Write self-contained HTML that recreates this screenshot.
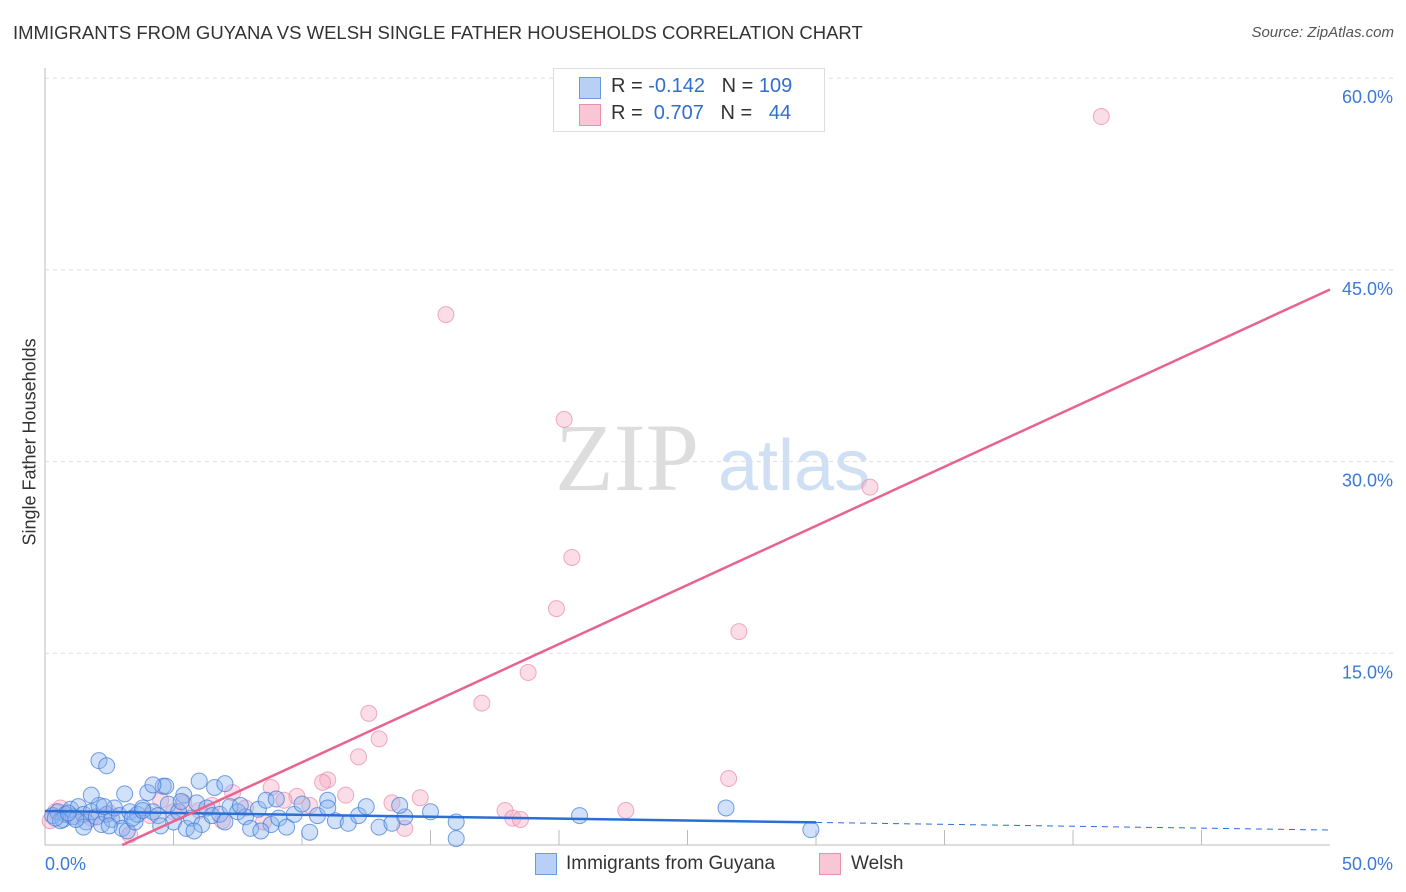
<!DOCTYPE html>
<html><head><meta charset="utf-8"><style>
body{margin:0;background:#fff;font-family:"Liberation Sans",sans-serif;}
#wrap{position:relative;width:1406px;height:892px;}
.t{position:absolute;white-space:nowrap;}
</style></head><body>
<div id="wrap">
<div class="t" style="left:13px;top:22px;font-size:18.5px;color:#333;">IMMIGRANTS FROM GUYANA VS WELSH SINGLE FATHER HOUSEHOLDS CORRELATION CHART</div>
<div class="t" style="right:12px;top:24px;font-size:15px;color:#555;font-style:italic;">Source: ZipAtlas.com</div>
<div class="t" style="left:-60px;top:445px;font-size:18px;color:#333;transform:rotate(-90deg);width:180px;text-align:center;">Single Father Households</div>
<svg id="svg" width="1406" height="892" style="position:absolute;left:0;top:0"></svg>
<div style="position:absolute;left:553px;top:68px;width:270px;height:62px;border:1px solid #ddd;background:#fff;">
 <div style="position:absolute;left:25px;top:8px;width:20px;height:20px;background:#b8d0f5;border:1px solid #6a9be0;"></div>
 <div class="t" style="left:57px;top:6px;font-size:20px;color:#333;">R = <span style="color:#2f6fd0">-0.142</span>&nbsp;&nbsp;&nbsp;N = <span style="color:#2f6fd0">109</span></div>
 <div style="position:absolute;left:25px;top:35px;width:20px;height:20px;background:#f8c6d4;border:1px solid #ea8fab;"></div>
 <div class="t" style="left:57px;top:33px;font-size:20px;color:#333;">R = &nbsp;<span style="color:#2f6fd0">0.707</span>&nbsp;&nbsp;&nbsp;N = &nbsp;&nbsp;<span style="color:#2f6fd0">44</span></div>
</div>
<div>
 <div style="position:absolute;left:535px;top:853px;width:20px;height:20px;background:#b8d0f5;border:1px solid #6a9be0;"></div>
 <div class="t" style="left:566px;top:853px;font-size:19px;color:#333;">Immigrants from Guyana</div>
 <div style="position:absolute;left:819px;top:853px;width:20px;height:20px;background:#f8c6d4;border:1px solid #ea8fab;"></div>
 <div class="t" style="left:851px;top:853px;font-size:19px;color:#333;">Welsh</div>
</div>
</div>
<script>
const yTicks=[15,30,45,60];
const yTickLabels=["15.0%","30.0%","45.0%","60.0%"];
const xTickLabels=["0.0%","50.0%"];
const blue=[[0.3,2.3],[0.5,2.6],[0.7,2.0],[0.8,2.4],[1.0,2.8],[1.1,2.2],[1.3,3.0],[1.5,2.4],[1.6,1.8],[1.8,2.6],[2.0,2.2],[2.1,3.1],[2.2,1.6],[2.4,2.4],[2.6,2.0],[2.7,2.9],[2.9,2.3],[3.0,1.3],[3.2,1.1],[3.3,2.6],[3.5,1.8],[3.6,2.4],[3.8,2.9],[4.0,4.1],[4.2,2.6],[4.4,2.3],[4.6,4.6],[4.8,3.2],[5.0,1.8],[5.2,2.6],[5.4,3.9],[5.5,1.3],[5.7,2.1],[5.9,3.3],[6.1,1.6],[6.3,2.9],[6.5,2.3],[6.8,2.4],[7.0,1.8],[7.2,3.0],[7.5,2.6],[7.8,2.2],[8.0,1.3],[8.3,2.8],[8.6,3.5],[8.8,1.6],[9.1,2.1],[9.4,1.4],[9.7,2.4],[10.0,3.2],[10.3,1.0],[10.6,2.3],[11.0,3.5],[11.3,1.9],[11.8,1.7],[12.2,2.3],[12.5,3.0],[13.0,1.4],[13.5,1.7],[14.0,2.2],[15.0,2.6],[16.0,1.8],[1.5,1.4],[2.5,1.5],[0.6,1.9],[3.4,2.1],[4.5,1.5],[5.8,1.1],[6.6,4.5],[7.6,3.1],[8.4,1.1],[9.0,3.6],[2.1,6.6],[2.4,6.2],[4.7,4.6],[6.0,5.0],[7.0,4.8],[11.0,2.9],[13.8,3.1],[16.0,0.5],[20.8,2.3],[26.5,2.9],[29.8,1.2],[1.8,3.9],[3.1,4.0],[4.2,4.7],[5.3,3.4],[3.8,2.7],[2.3,3.0],[1.2,2.0],[0.4,2.1],[0.9,2.5]];
const pink=[[41.1,57.0],[15.6,41.5],[20.2,33.3],[32.1,28.0],[20.5,22.5],[19.9,18.5],[27.0,16.7],[18.8,13.5],[17.0,11.1],[12.6,10.3],[13.0,8.3],[12.2,6.9],[26.6,5.2],[11.0,5.1],[10.8,4.9],[11.7,3.9],[8.8,4.5],[9.8,3.8],[7.3,4.1],[9.3,3.5],[10.3,3.1],[13.5,3.3],[14.6,3.7],[17.9,2.7],[18.2,2.1],[18.5,2.0],[14.0,1.3],[22.6,2.7],[8.5,1.8],[0.2,1.9],[0.4,2.6],[0.6,2.9],[1.0,2.3],[1.8,2.1],[2.5,2.5],[3.3,0.8],[4.5,3.5],[5.4,3.3],[6.5,3.1],[7.8,2.9],[6.0,2.7],[4.1,2.3],[5.0,2.6],[6.9,1.9]];
const blueTrend=[2.66,-0.0298];
const pinkTrend=[-2.78,0.925];
const X=v=>45+v/50*1285, Y=v=>845-v*191.7/15;
const svg=document.getElementById('svg'),NS='http://www.w3.org/2000/svg';
function mk(t,a){const e=document.createElementNS(NS,t);for(const k in a)e.setAttribute(k,a[k]);svg.appendChild(e);return e;}
let w=mk('text',{x:555,y:490,'font-size':96,fill:'#ddd','font-family':'Liberation Serif'});w.textContent='ZIP';


let w2=mk('text',{x:718,y:490,'font-size':72,fill:'#cfe0f5','font-family':'Liberation Sans'});w2.textContent='atlas';


yTicks.forEach((t,i)=>{
 const g=mk('line',{x1:45,x2:1395,y1:Y(t),y2:Y(t),stroke:'#ddd','stroke-dasharray':'4,4'});
 
 
 const l=mk('text',{x:1393,y:Y(t)+25,'text-anchor':'end','font-size':18,fill:'#3b7ad8'});l.textContent=yTickLabels[i];
 
 
});
mk('line',{x1:45,x2:45,y1:68,y2:845,stroke:'#bbb'});
mk('line',{x1:45,x2:1330,y1:845,y2:845,stroke:'#bbb'});
for(let i=1;i<=9;i++){const x=X(i*5);const tk=mk('line',{x1:x,x2:x,y1:830,y2:845,stroke:'#bbb'});
 
 }
[[0,45,'start'],[1,1393,'end']].forEach(([i,x,a])=>{const l=mk('text',{x:x,y:870,'text-anchor':a,'font-size':18,fill:'#3b7ad8'});l.textContent=xTickLabels[i];
 
 });
pink.forEach(p=>{const c=mk('circle',{cx:X(p[0]),cy:Y(p[1]),r:8,fill:'rgba(246,170,195,0.4)',stroke:'rgba(232,120,155,0.6)','stroke-width':1});
 
 });
blue.forEach(p=>{const c=mk('circle',{cx:X(p[0]),cy:Y(p[1]),r:8,fill:'rgba(140,180,240,0.4)',stroke:'rgba(60,120,215,0.7)','stroke-width':1});
 
 });
const bt=x=>blueTrend[0]+blueTrend[1]*x, pt=x=>pinkTrend[0]+pinkTrend[1]*x;
let l1=mk('line',{x1:X(0),y1:Y(bt(0)),x2:X(30),y2:Y(bt(30)),stroke:'#2a6fd6','stroke-width':2.5});


let l2=mk('line',{x1:X(30),y1:Y(bt(30)),x2:X(50),y2:Y(bt(50)),stroke:'#2a6fd6','stroke-width':1,'stroke-dasharray':'6,5'});


const x0=-pinkTrend[0]/pinkTrend[1];
let l3=mk('line',{x1:X(x0),y1:Y(0),x2:X(50),y2:Y(pt(50)),stroke:'#e8638f','stroke-width':2.5});


</script>
</body></html>
